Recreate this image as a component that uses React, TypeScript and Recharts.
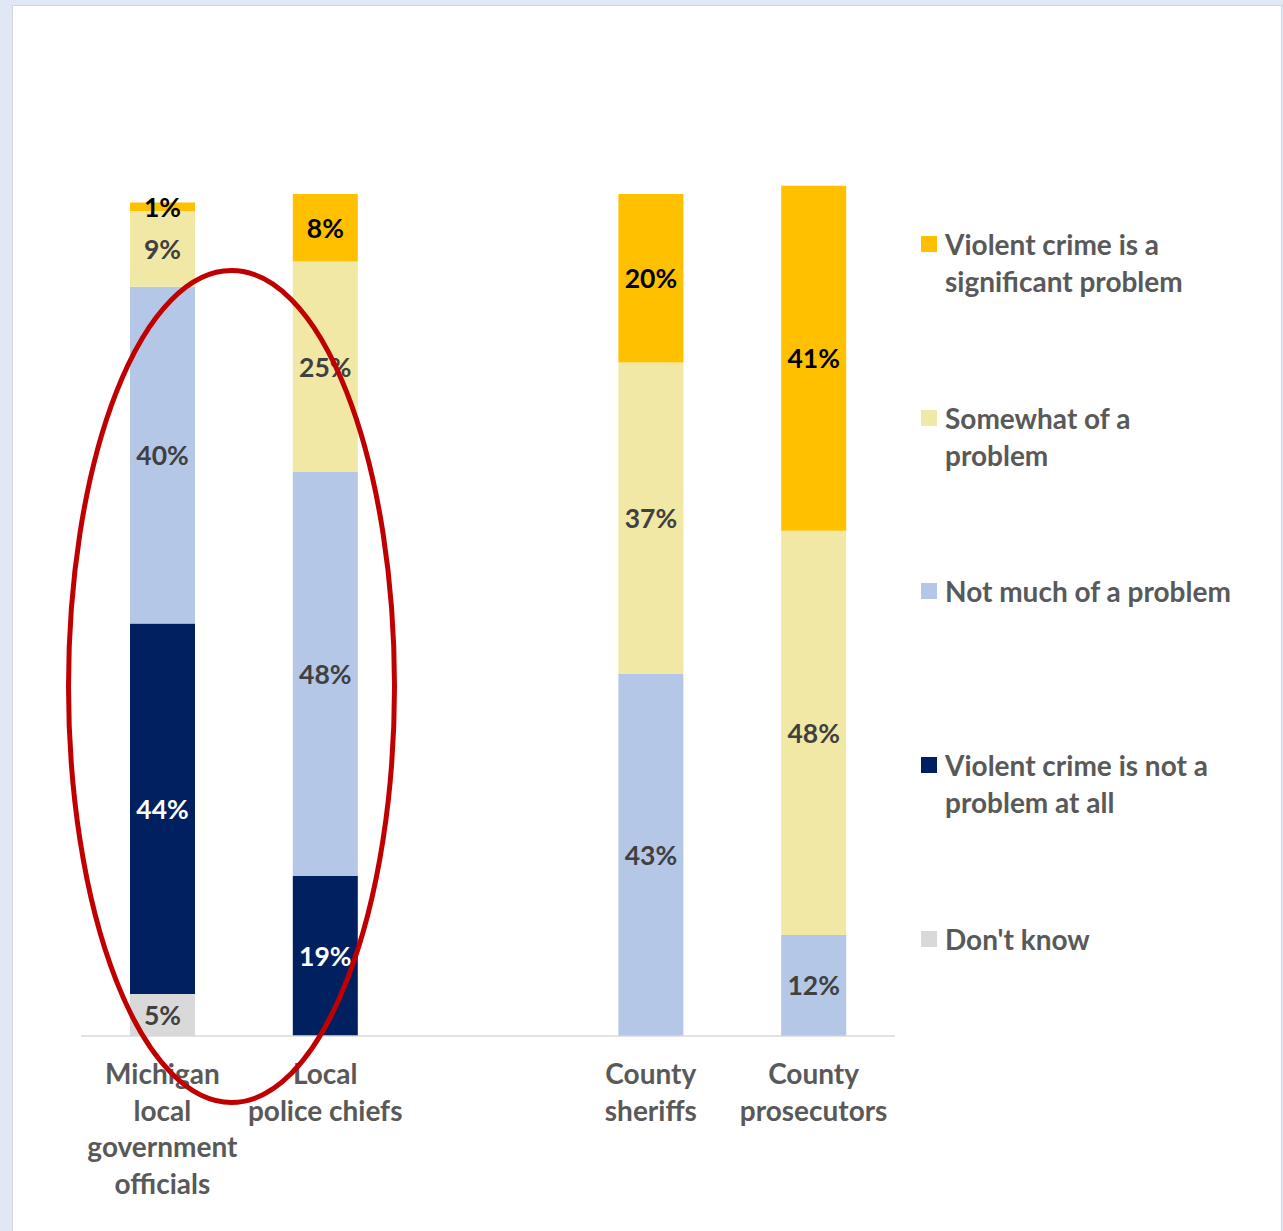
import React from "react";
import { BarChart, Bar, XAxis, YAxis, LabelList } from "recharts";

const categories = [
  "Michigan\nlocal\ngovernment\nofficials",
  "Local\npolice chiefs",
  "",
  "County\nsheriffs",
  "County\nprosecutors",
];
const dontKnow = [5, 0, null, 0, 0];
const notAtAll = [44, 19, null, 0, 0];
const notMuch = [40, 48, null, 43, 12];
const somewhat = [9, 25, null, 37, 48];
const significant = [1, 8, null, 20, 41];

const seriesKeys = ["dontKnow", "notAtAll", "notMuch", "somewhat", "significant"];
const seriesNames = [
  "Don't know",
  "Violent crime is not a problem at all",
  "Not much of a problem",
  "Somewhat of a problem",
  "Violent crime is a significant problem",
];
const seriesColors = ["#D9D9D9", "#002060", "#B4C7E7", "#F2E8A5", "#FFC000"];
const labelColors = ["#404040", "#FFFFFF", "#404040", "#404040", "#000000"];
const legendLines = [
  ["Violent crime is a", "significant problem"],
  ["Somewhat of a", "problem"],
  ["Not much of a problem"],
  ["Violent crime is not a", "problem at all"],
  ["Don't know"],
];
const legendColors = ["#FFC000", "#F2E8A5", "#B4C7E7", "#002060", "#D9D9D9"];

const seriesValues = [dontKnow, notAtAll, notMuch, somewhat, significant];
const data = categories.map((c, i) => {
  const row: any = { name: c };
  seriesKeys.forEach((k, j) => {
    row[k] = seriesValues[j][i];
  });
  return row;
});

const FONT = "Lato, 'Open Sans', sans-serif";

const Tick = (props: any) => {
  const { x, y, payload } = props;
  const lines = String(payload.value).split("\n");
  return (
    <text
      x={x}
      y={y}
      textAnchor="middle"
      fill="#595959"
      fontFamily={FONT}
      fontWeight={700}
      fontSize={28}
    >
      {lines.map((l, i) => (
        <tspan key={i} x={x} y={1036 + 48 + i * 36.5}>
          {l}
        </tspan>
      ))}
    </text>
  );
};

const makeLabel = (color: string) => (props: any) => {
  const { x, y, width, height, value } = props;
  if (value === null || value === undefined || value === 0) return null;
  return (
    <text
      x={x + width / 2}
      y={y + height / 2}
      textAnchor="middle"
      dominantBaseline="central"
      fill={color}
      fontFamily={FONT}
      fontWeight={700}
      fontSize={26.5}
    >
      {value}%
    </text>
  );
};

export default function App() {
  return (
    <div
      style={{
        position: "absolute",
        left: 0,
        top: 0,
        width: 1283,
        height: 1231,
        background: "#DFE8F4",
        overflow: "hidden",
      }}
    >
      <div
        style={{
          position: "absolute",
          left: 12,
          top: 5,
          width: 1268,
          height: 1240,
          background: "#FFFFFF",
          border: "1px solid #D4D4D4",
        }}
      />
      <div style={{ position: "absolute", left: 0, top: 0 }}>
        <BarChart
          width={1283}
          height={1231}
          data={data}
          margin={{ top: 152, right: 388, bottom: 165, left: 81 }}
          barSize={65}
        >
          <XAxis
            dataKey="name"
            height={30}
            tick={<Tick />}
            tickLine={false}
            axisLine={{ stroke: "#D9D9D9", strokeWidth: 1.5 }}
            interval={0}
          />
          <YAxis hide domain={[0, 105]} />
          {seriesKeys.map((k, j) => (
            <Bar
              key={k}
              dataKey={k}
              name={seriesNames[j]}
              stackId="a"
              fill={seriesColors[j]}
              isAnimationActive={false}
            >
              <LabelList dataKey={k} content={makeLabel(labelColors[j])} />
            </Bar>
          ))}
        </BarChart>
      </div>
      <div
        style={{
          position: "absolute",
          left: 921,
          top: 226,
          fontFamily: FONT,
          fontWeight: 700,
          fontSize: 28,
          color: "#595959",
        }}
      >
        {legendLines.map((lines, i) => (
          <div
            key={i}
            style={{
              position: "absolute",
              top: i * 173.7,
              left: 0,
              width: 350,
              lineHeight: "37px",
            }}
          >
            <div
              style={{
                position: "absolute",
                left: 0,
                top: 10,
                width: 16,
                height: 16,
                background: legendColors[i],
              }}
            />
            <div style={{ marginLeft: 24, whiteSpace: "nowrap" }}>
              {lines.map((l, k) => (
                <div key={k}>{l}</div>
              ))}
            </div>
          </div>
        ))}
      </div>
      <svg
        width={1283}
        height={1231}
        style={{ position: "absolute", left: 0, top: 0, pointerEvents: "none" }}
      >
        <ellipse
          cx={231.5}
          cy={686.5}
          rx={163}
          ry={416}
          fill="none"
          stroke="#C00000"
          strokeWidth={5}
        />
      </svg>
    </div>
  );
}
